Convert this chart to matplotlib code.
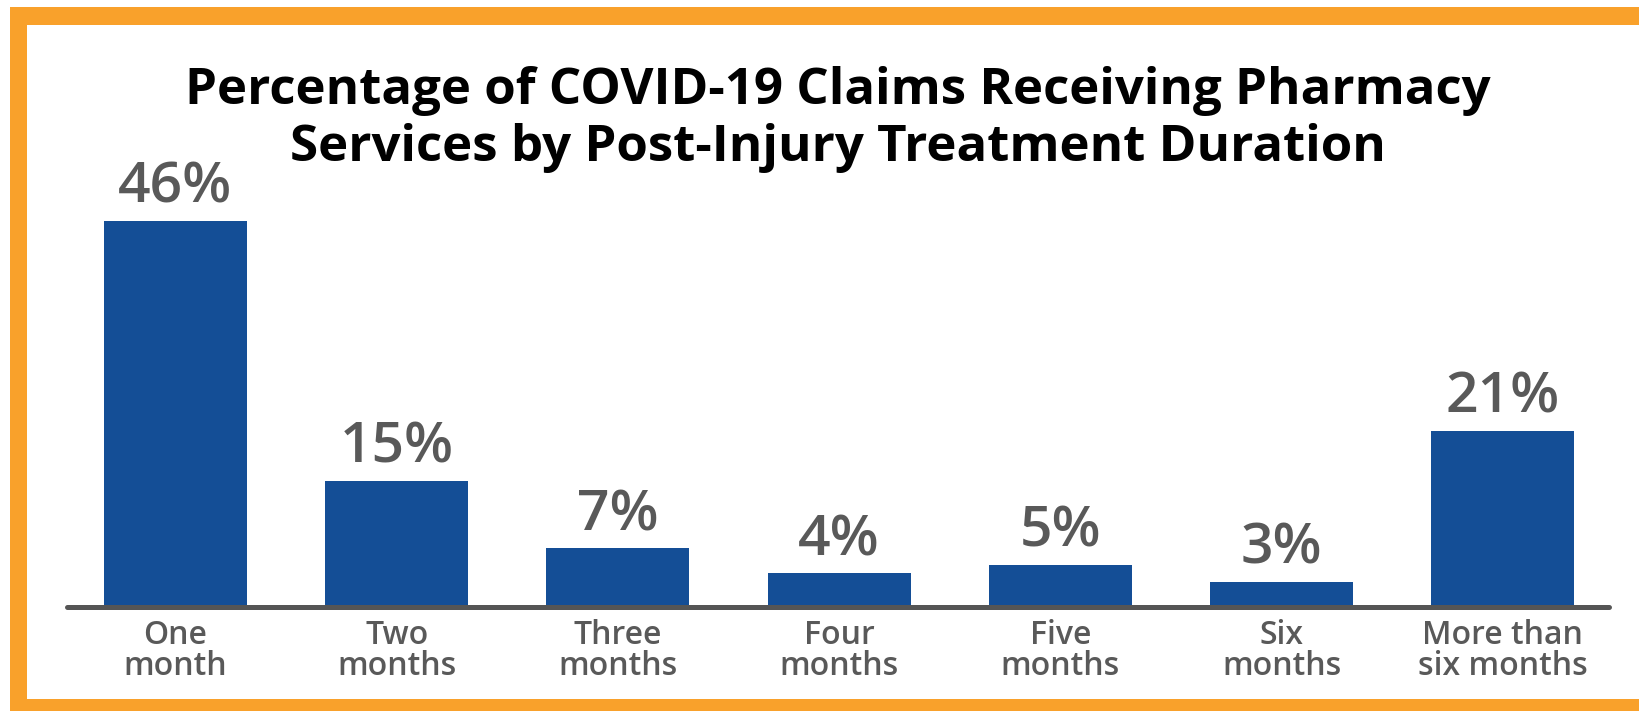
import matplotlib.pyplot as plt
from matplotlib.patches import Rectangle

categories = ["One\nmonth", "Two\nmonths", "Three\nmonths", "Four\nmonths",
              "Five\nmonths", "Six\nmonths", "More than\nsix months"]
values = [46, 15, 7, 4, 5, 3, 21]
value_labels = ["46%", "15%", "7%", "4%", "5%", "3%", "21%"]
title = "Percentage of COVID-19 Claims Receiving Pharmacy\nServices by Post-Injury Treatment Duration"

W, H = 1639, 711
plt.rcParams['font.family'] = ['Open Sans', 'DejaVu Sans']

fig = plt.figure(figsize=(W / 100, H / 100), dpi=100)
fig.patch.set_facecolor('white')

# orange frame (right side is cut off in the original)
orange = '#F9A12B'
fig.patches.append(Rectangle((10 / W, 0), 1, 1 - 7 / H, transform=fig.transFigure,
                             facecolor=orange, edgecolor='none', zorder=-2))
fig.patches.append(Rectangle((27 / W, (H - 699) / H), 1, (699 - 25) / H,
                             transform=fig.transFigure, facecolor='white',
                             edgecolor='none', zorder=-1))

# axes: baseline at y=607 px, 8.4 px per percent
ax_bottom = (H - 607) / H
ax_h = 457 / H
ax = fig.add_axes([67 / W, ax_bottom, 1542 / W, ax_h])
ax.set_zorder(1)
ax.set_facecolor('none')
x = range(len(values))
ax.bar(x, values, width=0.647, color='#144E96', zorder=2)
ax.set_xlim(-0.49, 6.48)
ax.set_ylim(0, 457 / 8.4)

for i, (v, lab) in enumerate(zip(values, value_labels)):
    ax.annotate(lab, (i, v), xytext=(0, 13), textcoords='offset points',
                ha='center', va='baseline', fontsize=41, color='#595959',
                fontweight='semibold', clip_on=False)

ax.axhline(0, color='#555555', lw=3.6, solid_capstyle='round', zorder=3,
           clip_on=False)

for s in ax.spines.values():
    s.set_visible(False)
ax.set_yticks([])
ax.set_xticks(list(x))
ax.set_xticklabels(categories, fontsize=23, color='#595959', linespacing=0.9,
                   fontweight='semibold')
ax.tick_params(axis='x', length=0, pad=9)

fig.text(838 / W, 1 - 66 / H, title, ha='center', va='top', fontsize=36.7,
         fontweight='bold', color='black', linespacing=1.19)

fig.savefig('out.png', dpi=100)
